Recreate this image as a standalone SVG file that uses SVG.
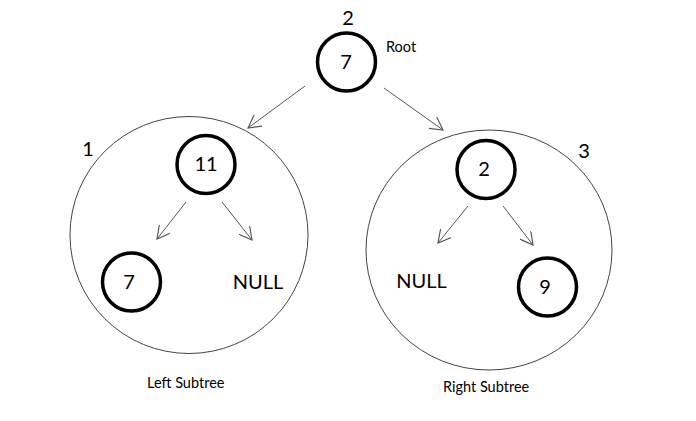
<svg xmlns="http://www.w3.org/2000/svg" width="696" height="421" viewBox="0 0 696 421">
<style>
.node{fill:#fff;stroke:#000;stroke-width:3.5}
.sub{fill:none;stroke:#444;stroke-width:1}
.t{font-family:Lato,"Open Sans",sans-serif;fill:#000}
.big{font-size:20px;text-anchor:middle}
.small{font-size:14.5px}
.edge{stroke:#555;stroke-width:1;fill:none;marker-end:url(#arr)}
</style>
<defs>
<marker id="arr" viewBox="0 0 12 12" refX="11" refY="6" markerWidth="14" markerHeight="14" markerUnits="userSpaceOnUse" orient="auto">
<path d="M0,0 L11,6 L0,12" fill="none" stroke="#555" stroke-width="1"/>
</marker>
</defs>
<rect width="696" height="421" fill="#fff"/>
<g id="left-subtree">
<ellipse class="sub" cx="189" cy="235" rx="119" ry="118.5"/>
<text class="t big" x="88" y="156">1</text>
<text class="t small" x="147" y="388">Left Subtree</text>
</g>
<g id="right-subtree">
<ellipse class="sub" cx="489" cy="250" rx="123" ry="120"/>
<text class="t big" x="584" y="158">3</text>
<text class="t small" x="443" y="392">Right Subtree</text>
</g>
<g id="root">
<circle class="node" cx="346.5" cy="62" r="29"/>
<text class="t big" x="346" y="69">7</text>
<text class="t big" x="348" y="25">2</text>
<text class="t small" x="386" y="52">Root</text>
</g>
<g id="n11">
<circle class="node" cx="206" cy="164.5" r="29"/>
<text class="t big" x="206" y="171">11</text>
</g>
<g id="n7">
<circle class="node" cx="131.5" cy="282" r="29"/>
<text class="t big" x="129" y="289">7</text>
</g>
<g id="null-left">
<text class="t big" x="258" y="289">NULL</text>
</g>
<g id="n2">
<circle class="node" cx="486" cy="169.5" r="29"/>
<text class="t big" x="484" y="176">2</text>
</g>
<g id="null-right">
<text class="t big" x="421.5" y="288">NULL</text>
</g>
<g id="n9">
<circle class="node" cx="547.5" cy="287" r="29"/>
<text class="t big" x="545" y="294">9</text>
</g>
<g id="connectors">
<line class="edge" x1="305" y1="86" x2="248" y2="128"/>
<line class="edge" x1="384" y1="88" x2="443" y2="130"/>
<line class="edge" x1="186" y1="202" x2="157" y2="239"/>
<line class="edge" x1="222" y1="202" x2="252" y2="240"/>
<line class="edge" x1="468" y1="206" x2="438" y2="243"/>
<line class="edge" x1="503" y1="206" x2="533" y2="245"/>
</g>
</svg>
